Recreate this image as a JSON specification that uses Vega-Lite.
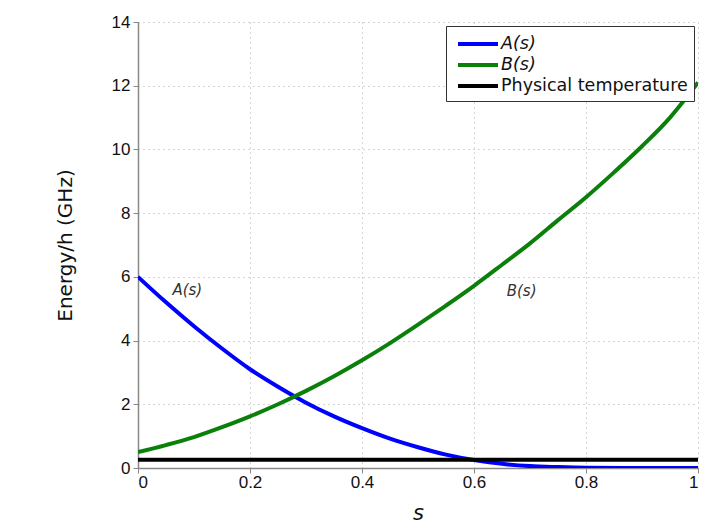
{
  "$schema": "https://vega.github.io/schema/vega-lite/v6.json",
  "width": 560,
  "height": 446,
  "autosize": {"type": "none"},
  "padding": {"left": 138, "top": 22, "right": 30, "bottom": 61},
  "background": "white",
  "config": {
    "view": {"stroke": null},
    "axis": {
      "labelFont": "Liberation Sans",
      "labelFontSize": 17,
      "labelColor": "#111",
      "titleFont": "DejaVu Sans",
      "titleFontWeight": "normal",
      "titleColor": "#111",
      "domainColor": "#888",
      "domainWidth": 1.5,
      "tickColor": "#888",
      "gridColor": "#aaa",
      "gridDash": [1, 4],
      "gridWidth": 1
    }
  },
  "datasets": {
    "curves": [
      {"s": 0.0, "value": 6.0, "series": "A(s)"},
      {"s": 0.05, "value": 5.2, "series": "A(s)"},
      {"s": 0.1, "value": 4.45, "series": "A(s)"},
      {"s": 0.15, "value": 3.75, "series": "A(s)"},
      {"s": 0.2, "value": 3.1, "series": "A(s)"},
      {"s": 0.25, "value": 2.55, "series": "A(s)"},
      {"s": 0.3, "value": 2.05, "series": "A(s)"},
      {"s": 0.35, "value": 1.62, "series": "A(s)"},
      {"s": 0.4, "value": 1.25, "series": "A(s)"},
      {"s": 0.45, "value": 0.92, "series": "A(s)"},
      {"s": 0.5, "value": 0.65, "series": "A(s)"},
      {"s": 0.55, "value": 0.42, "series": "A(s)"},
      {"s": 0.6, "value": 0.25, "series": "A(s)"},
      {"s": 0.65, "value": 0.13, "series": "A(s)"},
      {"s": 0.7, "value": 0.06, "series": "A(s)"},
      {"s": 0.75, "value": 0.03, "series": "A(s)"},
      {"s": 0.8, "value": 0.01, "series": "A(s)"},
      {"s": 0.9, "value": 0.0, "series": "A(s)"},
      {"s": 1.0, "value": 0.0, "series": "A(s)"},
      {"s": 0.0, "value": 0.5, "series": "B(s)"},
      {"s": 0.05, "value": 0.72, "series": "B(s)"},
      {"s": 0.1, "value": 0.97, "series": "B(s)"},
      {"s": 0.15, "value": 1.28, "series": "B(s)"},
      {"s": 0.2, "value": 1.62, "series": "B(s)"},
      {"s": 0.25, "value": 2.0, "series": "B(s)"},
      {"s": 0.3, "value": 2.42, "series": "B(s)"},
      {"s": 0.35, "value": 2.88, "series": "B(s)"},
      {"s": 0.4, "value": 3.38, "series": "B(s)"},
      {"s": 0.45, "value": 3.92, "series": "B(s)"},
      {"s": 0.5, "value": 4.5, "series": "B(s)"},
      {"s": 0.55, "value": 5.1, "series": "B(s)"},
      {"s": 0.6, "value": 5.72, "series": "B(s)"},
      {"s": 0.65, "value": 6.38, "series": "B(s)"},
      {"s": 0.7, "value": 7.05, "series": "B(s)"},
      {"s": 0.75, "value": 7.78, "series": "B(s)"},
      {"s": 0.8, "value": 8.5, "series": "B(s)"},
      {"s": 0.85, "value": 9.28, "series": "B(s)"},
      {"s": 0.9, "value": 10.1, "series": "B(s)"},
      {"s": 0.95, "value": 11.0, "series": "B(s)"},
      {"s": 1.0, "value": 12.1, "series": "B(s)"},
      {"s": 0.0, "value": 0.26, "series": "Physical temperature"},
      {"s": 1.0, "value": 0.26, "series": "Physical temperature"}
    ],
    "labels": [
      {"s": 0.088, "value": 5.6, "text": "A(s)"},
      {"s": 0.685, "value": 5.55, "text": "B(s)"}
    ]
  },
  "layer": [
    {
      "data": {"name": "curves"},
      "mark": {"type": "line", "strokeWidth": 4, "clip": true, "interpolate": "monotone"},
      "encoding": {
        "x": {
          "field": "s", "type": "quantitative",
          "scale": {"domain": [0, 1], "nice": false},
          "axis": {
            "values": [0, 0.2, 0.4, 0.6, 0.8, 1],
            "format": "~g",
            "title": "s",
            "titleFontStyle": "italic",
            "titleFontSize": 21,
            "titlePadding": 12,
            "tickSize": 5,
            "labelPadding": 1
          }
        },
        "y": {
          "field": "value", "type": "quantitative",
          "scale": {"domain": [0, 14], "nice": false},
          "axis": {
            "values": [0, 2, 4, 6, 8, 10, 12, 14],
            "title": "Energy/h (GHz)",
            "titleFontSize": 20,
            "titlePadding": 36,
            "tickSize": 5,
            "labelPadding": 3
          }
        },
        "color": {
          "field": "series", "type": "nominal",
          "scale": {
            "domain": ["A(s)", "B(s)", "Physical temperature"],
            "range": ["#0000ff", "#0a800a", "#000000"]
          },
          "legend": {
            "title": null,
            "orient": "top-right",
            "offset": 4,
            "padding": 6,
            "strokeColor": "#333",
            "fillColor": "white",
            "symbolType": "M-1,0H3",
            "symbolSize": 400,
            "symbolStrokeWidth": 4,
            "symbolOffset": 4,
            "labelOffset": 21,
            "labelLimit": 0,
            "labelFont": "DejaVu Sans",
            "labelFontSize": 17.5,
            "labelColor": "#111",
            "rowPadding": 0,
            "encode": {
              "labels": {
                "update": {
                  "fontStyle": {"signal": "datum.value === 'Physical temperature' ? 'normal' : 'italic'"}
                }
              }
            }
          }
        }
      }
    },
    {
      "data": {"name": "labels"},
      "mark": {"type": "text", "font": "DejaVu Sans", "fontStyle": "italic", "fontSize": 15, "color": "#333"},
      "encoding": {
        "x": {"field": "s", "type": "quantitative"},
        "y": {"field": "value", "type": "quantitative"},
        "text": {"field": "text"}
      }
    }
  ]
}
